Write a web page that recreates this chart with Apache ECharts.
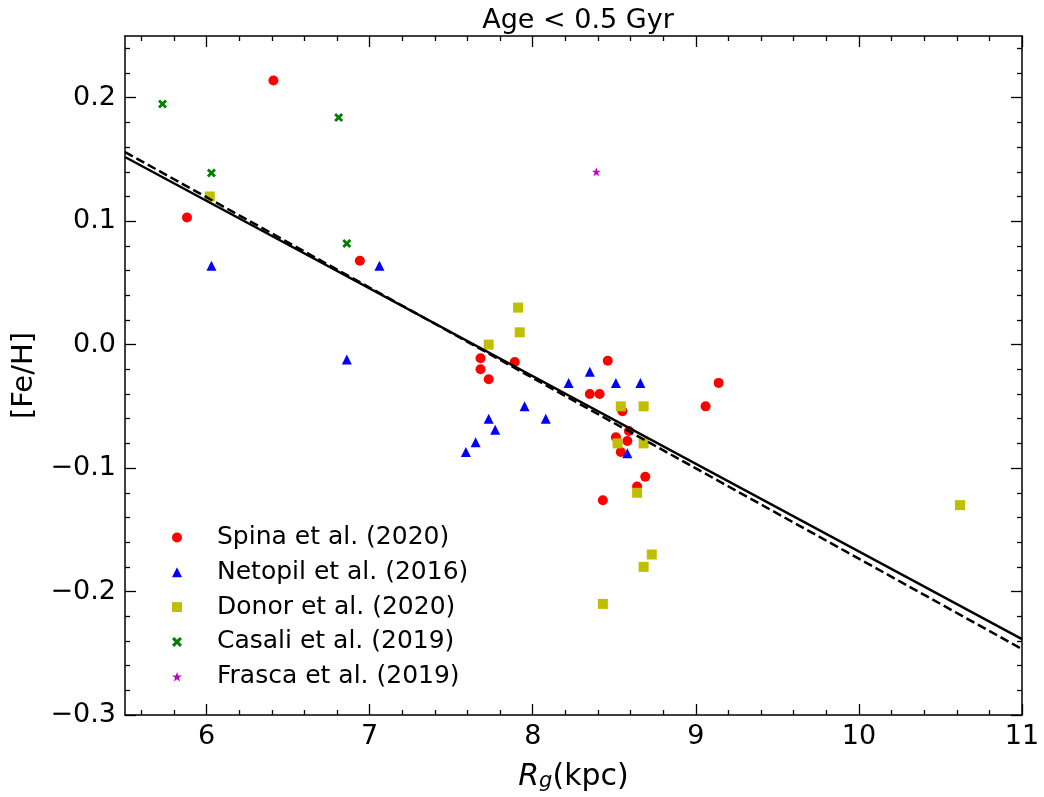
<!DOCTYPE html>
<html>
<head>
<meta charset="utf-8">
<script src="https://cdn.jsdelivr.net/npm/echarts@6/dist/echarts.min.js"></script>
<style>
html,body{margin:0;padding:0;background:#fff;}
#chart{width:1044px;height:797px;}
</style>
</head>
<body>
<div id="chart"></div>
<script>
// ---------- data ----------
const spina = [[6.41,0.214],[5.88,0.103],[6.94,0.068],[7.68,-0.011],[7.68,-0.020],[7.73,-0.028],[7.89,-0.014],[8.46,-0.013],[9.14,-0.031],[8.35,-0.040],[8.41,-0.040],[9.06,-0.050],[8.55,-0.054],[8.59,-0.070],[8.51,-0.075],[8.58,-0.078],[8.54,-0.087],[8.69,-0.107],[8.64,-0.115],[8.43,-0.126]];
const netopil = [[6.03,0.064],[7.06,0.064],[6.86,-0.012],[7.59,-0.087],[7.65,-0.079],[7.73,-0.060],[7.77,-0.069],[7.95,-0.050],[8.08,-0.060],[8.22,-0.031],[8.35,-0.022],[8.51,-0.031],[8.66,-0.031],[8.58,-0.088]];
const donor = [[6.02,0.120],[7.91,0.030],[7.92,0.010],[7.73,0.000],[8.54,-0.050],[8.68,-0.050],[8.52,-0.080],[8.68,-0.080],[8.64,-0.120],[8.73,-0.170],[8.68,-0.180],[8.43,-0.210],[10.62,-0.130]];
const casali = [[5.73,0.195],[6.81,0.184],[6.03,0.139],[6.86,0.082]];
const frasca = [[8.39,0.140]];
const fitSolid = [[5.5,0.152],[11,-0.2385]];
const fitDashed = [[5.5,0.156],[11,-0.2466]];
const seriesNames = ['Spina et al. (2020)','Netopil et al. (2016)','Donor et al. (2020)','Casali et al. (2019)','Frasca et al. (2019)'];
const xTicks = [6,7,8,9,10,11];
const yTicks = [-0.3,-0.2,-0.1,0.0,0.1,0.2];
const xRange = [5.5, 11];
const yRange = [-0.3, 0.25];
const titleText = 'Age < 0.5 Gyr';

// minor tick positions
const xMinor = [];
for (let i = 28; i <= 54; i++) { if (i % 5 !== 0) xMinor.push(+(i*0.2).toFixed(2)); }
const yMinor = [];
for (let i = -14; i <= 12; i++) { if (i % 5 !== 0) yMinor.push(+(i*0.02).toFixed(2)); }

const FONT = 'DejaVu Sans';
const crossPath = 'path://M2.2,0 L5,2.8 L7.8,0 L10,2.2 L7.2,5 L10,7.8 L7.8,10 L5,7.2 L2.2,10 L0,7.8 L2.8,5 L0,2.2 Z';
const starPath = 'path://M50,0 L61.8,35.1 L98.6,35.1 L68.8,56.9 L80.1,91.9 L50,70.2 L19.9,91.9 L31.2,56.9 L1.4,35.1 L38.2,35.1 Z';

function xAx(pos, ticks, len, showLine, labels) {
  return {
    type: 'value', position: pos, min: xRange[0], max: xRange[1],
    axisLine: { show: showLine, onZero: false, lineStyle: { color: '#000', width: 1.5 } },
    axisTick: { show: true, inside: true, length: len, customValues: ticks, lineStyle: { color: '#000', width: 1.3 } },
    axisLabel: labels ? { show: true, customValues: xTicks, color: '#000', fontSize: 27, fontFamily: FONT, margin: 8, formatter: v => String(v) } : { show: false },
    splitLine: { show: false }
  };
}
function yAx(pos, ticks, len, showLine, labels) {
  return {
    type: 'value', position: pos, min: yRange[0], max: yRange[1],
    axisLine: { show: showLine, onZero: false, lineStyle: { color: '#000', width: 1.5 } },
    axisTick: { show: true, inside: true, length: len, customValues: ticks, lineStyle: { color: '#000', width: 1.3 } },
    axisLabel: labels ? { show: true, customValues: yTicks, color: '#000', fontSize: 27, fontFamily: FONT, margin: 9,
      formatter: v => (v < -1e-9 ? '\u2212' : '') + Math.abs(v).toFixed(1) } : { show: false },
    splitLine: { show: false }
  };
}

const xAxes = [xAx('bottom', xTicks, 11, true, true), xAx('bottom', xMinor, 5, false, false), xAx('top', xTicks, 11, true, false), xAx('top', xMinor, 5, false, false)];
xAxes[0].name = '{r|R}{g|g}{n|(kpc)}';
xAxes[0].nameLocation = 'middle';
xAxes[0].nameGap = 42;
xAxes[0].nameTextStyle = {
  color: '#000', fontFamily: FONT,
  rich: {
    r: { fontSize: 30, fontStyle: 'italic', fontFamily: FONT, color: '#000', verticalAlign: 'bottom', lineHeight: 35 },
    g: { fontSize: 21, fontStyle: 'italic', fontFamily: FONT, color: '#000', verticalAlign: 'bottom', lineHeight: 21 },
    n: { fontSize: 30, fontFamily: FONT, color: '#000', verticalAlign: 'bottom', lineHeight: 35 }
  }
};
const yAxes = [yAx('left', yTicks, 11, true, true), yAx('left', yMinor, 5, false, false), yAx('right', yTicks, 11, true, false), yAx('right', yMinor, 5, false, false)];
yAxes[0].name = '[Fe/H]';
yAxes[0].nameLocation = 'middle';
yAxes[0].nameRotate = 90;
yAxes[0].nameGap = 86;
yAxes[0].nameTextStyle = { color: '#000', fontSize: 29, fontFamily: FONT };

function sc(name, data, symbol, size, color) {
  return { name: name, type: 'scatter', data: data, symbol: symbol, symbolSize: size,
    itemStyle: { color: color, opacity: 1 }, xAxisIndex: 0, yAxisIndex: 0, z: 2, silent: true };
}

const option = {
  animation: false,
  backgroundColor: '#fff',
  title: { text: titleText, left: 573, top: 2, textAlign: 'center',
    textStyle: { color: '#000', fontSize: 27, fontWeight: 'normal', fontFamily: FONT } },
  grid: { left: 125, right: 22, top: 36, bottom: 81, containLabel: false },
  xAxis: xAxes,
  yAxis: yAxes,
  legend: {
    orient: 'vertical', left: 167, top: 520, itemWidth: 10, itemHeight: 10, itemGap: 9.8,
    data: seriesNames,
    textStyle: { color: '#000', fontSize: 25, fontFamily: FONT, lineHeight: 25, padding: [0, 0, 0, 30] },
    selectedMode: false
  },
  series: [
    sc(seriesNames[0], spina, 'circle', 10, '#ff0000'),
    sc(seriesNames[1], netopil, 'triangle', 10, '#0000ff'),
    sc(seriesNames[2], donor, 'rect', 10, '#bfbf00'),
    sc(seriesNames[3], casali, crossPath, 9, '#008000'),
    sc(seriesNames[4], frasca, starPath, 9, '#bf00bf'),
    { type: 'line', data: fitSolid, showSymbol: false, silent: true, z: 3,
      lineStyle: { color: '#000', width: 2.5, type: 'solid' } },
    { type: 'line', data: fitDashed, showSymbol: false, silent: true, z: 3,
      lineStyle: { color: '#000', width: 2.5, type: [9, 4] } }
  ]
};

const chart = echarts.init(document.getElementById('chart'), null, { renderer: 'canvas' });
chart.setOption(option);
</script>
</body>
</html>
